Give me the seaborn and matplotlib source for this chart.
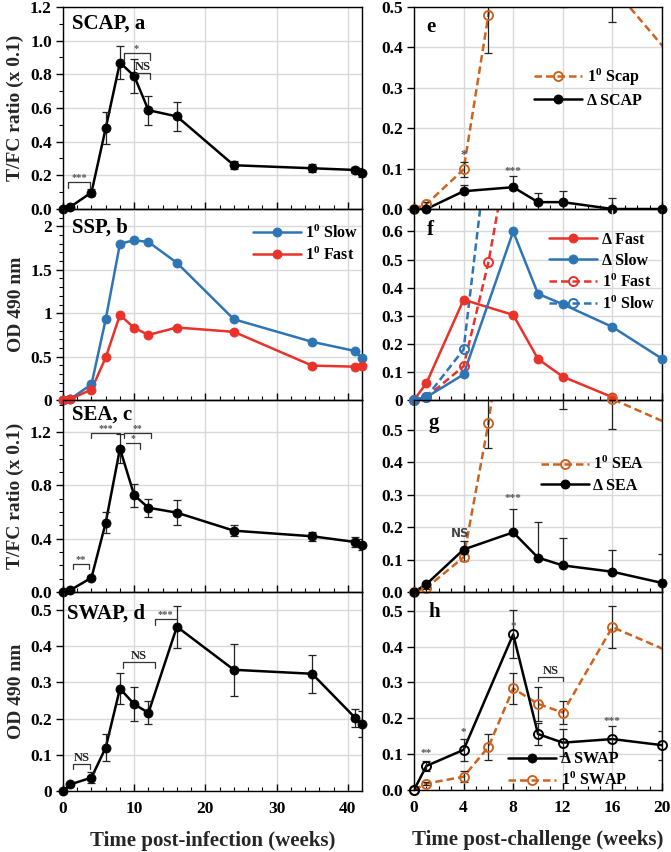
import numpy as np
import matplotlib
matplotlib.use('Agg')
import matplotlib.pyplot as plt
import seaborn as sns
from matplotlib.lines import Line2D
from matplotlib.ticker import MultipleLocator, FuncFormatter

# ---- data ----
weeks_inf = [0, 1, 4, 6, 8, 10, 12, 16, 24, 35, 41, 42]
scap = [0, 0.012, 0.098, 0.48, 0.87, 0.79, 0.587, 0.55, 0.26, 0.242, 0.232, 0.216]
scap_err = [0.005, 0.005, 0.018, 0.095, 0.1, 0.1, 0.087, 0.087, 0.025, 0.025, 0.02, 0.025]
ssp_slow = [0, 0.01, 0.18, 0.93, 1.8, 1.84, 1.82, 1.58, 0.93, 0.67, 0.565, 0.48]
ssp_fast = [0, 0.01, 0.12, 0.49, 0.98, 0.83, 0.75, 0.835, 0.785, 0.396, 0.384, 0.395]
sea = [0, 0.013, 0.107, 0.52, 1.075, 0.726, 0.632, 0.595, 0.46, 0.418, 0.375, 0.355]
sea_err = [0.005, 0.005, 0.01, 0.077, 0.11, 0.087, 0.068, 0.093, 0.04, 0.035, 0.04, 0.04]
swap = [0, 0.018, 0.037, 0.12, 0.283, 0.24, 0.216, 0.454, 0.335, 0.324, 0.203, 0.184]
swap_err = [0.003, 0.004, 0.015, 0.037, 0.042, 0.047, 0.032, 0.058, 0.072, 0.053, 0.025, 0.036]

weeks_ch = [0, 1, 4, 8, 10, 12, 16, 20]
d_scap = [0, 0, 0.044, 0.054, 0.017, 0.017, 0, 0]
d_scap_err = [0, 0, 0.015, 0.027, 0.022, 0.027, 0.026, 0]
weeks_fast = [0, 1, 4, 8, 10, 12, 16]
d_fast = [0, 0.06, 0.357, 0.303, 0.146, 0.083, 0.01]
d_slow = [0, 0.01, 0.091, 0.6, 0.378, 0.341, 0.26, 0.147]
d_sea = [0, 0.024, 0.131, 0.184, 0.106, 0.082, 0.0625, 0.028]
d_sea_err = [0, 0, 0.026, 0.073, 0.109, 0.085, 0.066, 0.09]
d_swap = [0, 0.067, 0.112, 0.434, 0.156, 0.132, 0.142, 0.125]
d_swap_err = [0, 0.015, 0.03, 0.067, 0.03, 0.037, 0.037, 0.04]

BLUE = '#2E75B6'
RED = '#E8322A'
ORANGE = '#CC6420'
BLACK = '#000000'

sns.set_theme(style='ticks')
plt.rcParams.update({
    'font.family': ['Liberation Serif', 'DejaVu Serif'],
    'font.weight': 'bold',
    'axes.labelweight': 'bold',
    'mathtext.fontset': 'custom',
    'mathtext.rm': 'Liberation Serif:bold',
    'mathtext.it': 'Liberation Serif:bold',
    'mathtext.bf': 'Liberation Serif:bold',
    'axes.edgecolor': 'black',
    'axes.linewidth': 1.0,
    'xtick.color': 'black',
    'ytick.color': 'black',
    'text.color': 'black',
})

fig = plt.figure(figsize=(6.71, 8.52), dpi=100)
H = 852.0


def box(left, width, top, bot):
    return [left / 671.0, 1 - bot / H, width / 671.0, (bot - top) / H]


def series(ax, x, y, color, open_=False, dashed=False, err=None, upper=False):
    x = np.asarray(x, float)
    y = np.asarray(y, float)
    ls = (0, (3, 1.6)) if dashed else '-'
    sns.lineplot(x=x, y=y, ax=ax, color=color, linewidth=1.8, linestyle=ls,
                 sort=False, zorder=2)
    if err is not None:
        err = np.asarray(err, float)
        yerr = [np.zeros_like(err), err] if upper else err
        ax.errorbar(x, y, yerr=yerr, fmt='none', ecolor='#222222', elinewidth=0.9,
                    capsize=3, capthick=0.9, zorder=2.5)
    top = ax.get_ylim()[1]
    m = y <= top * 1.02
    ax.plot(x[m], y[m], 'o', ms=6.5, mfc='none' if open_ else color, mec=color,
            mew=1.4 if open_ else 0.6, clip_on=False, zorder=3)


def style(ax, ylim, ymaj, ymin=None, fmt='{:.1f}', left=True, bottom=False):
    ax.set_facecolor('none')
    ax.set_ylim(*ylim)
    if left:
        ax.set_xlim(0, 42)
        ax.xaxis.set_major_locator(MultipleLocator(10))
        ax.xaxis.set_minor_locator(MultipleLocator(2))
    else:
        ax.set_xlim(0, 20)
        ax.xaxis.set_major_locator(MultipleLocator(4))
        ax.xaxis.set_minor_locator(MultipleLocator(1))
    ax.yaxis.set_major_locator(MultipleLocator(ymaj))
    if ymin:
        ax.yaxis.set_minor_locator(MultipleLocator(ymin))
    ax.yaxis.set_major_formatter(FuncFormatter(lambda v, p: fmt.format(v)))
    ax.grid(True, which='major', color='#d9d9d9', lw=1.0)
    ax.set_axisbelow(True)
    for s in ax.spines.values():
        s.set_visible(True)
        s.set_color('black')
        s.set_linewidth(1.0)
    ax.tick_params(axis='x', which='both', direction='in', labelsize=12.5, pad=7)
    ax.tick_params(axis='y', which='both', direction='out', labelsize=12.5, pad=3)
    ax.tick_params(which='major', length=5, width=1)
    ax.tick_params(which='minor', length=3, width=0.8)
    ax.tick_params(axis='x', labelbottom=bottom)
    for t in ax.get_yticklabels() + ax.get_xticklabels():
        t.set_fontweight('bold')


def bracket(ax, x1, x2, y, drop, text, color='#555555', fs=7.5, drops=(True, True), tcolor=None):
    xs, ys = [], []
    if drops[0]:
        xs += [x1]; ys += [y - drop]
    xs += [x1, x2]; ys += [y, y]
    if drops[1]:
        xs += [x2]; ys += [y - drop]
    ax.plot(xs, ys, color='#333333', lw=0.9, zorder=4)
    ax.text((x1 + x2) / 2, y, text, ha='center', va='bottom', fontsize=fs,
            color=tcolor or color, fontweight='bold')


def legend(ax, entries, **kw):
    handles, labels = [], []
    for lab, c, dashed, open_ in entries:
        handles.append(Line2D([], [], color=c, lw=1.8, ls=(0, (3, 1.6)) if dashed else '-',
                              marker='o', ms=6.5, mfc='none' if open_ else c, mec=c,
                              mew=1.4 if open_ else 0.6))
        labels.append(lab)
    ax.legend(handles, labels, frameon=False, fontsize=11.5, handlelength=3.0,
              handletextpad=0.3, labelspacing=0.3, borderaxespad=0.2, **kw)


P = r'1$^{0}$'

# ---------------- left column ----------------
axa = fig.add_axes(box(63, 299, 7, 209))
style(axa, (0, 1.2), 0.2, 0.1)
series(axa, weeks_inf, scap, BLACK, err=scap_err)
axa.set_ylabel('T/FC ratio (x 0.1)', fontsize=14)
axa.text(0.03, 0.965, 'SCAP, a', transform=axa.transAxes, fontsize=15, va='top')
bracket(axa, 0.75, 3.8, 0.163, 0.04, '***')
bracket(axa, 8.5, 12.2, 0.925, 0.04, '*')
bracket(axa, 10.1, 12.2, 0.805, 0.03, 'NS', drops=(False, True), fs=9, tcolor='#222222')

axb = fig.add_axes(box(63, 299, 209, 400))
style(axb, (0, 2.2), 0.5, 0.1, fmt='{:g}')
series(axb, weeks_inf, ssp_slow, BLUE)
series(axb, weeks_inf, ssp_fast, RED)
axb.set_ylabel('OD 490 nm', fontsize=14)
axb.text(0.03, 0.955, 'SSP, b', transform=axb.transAxes, fontsize=15, va='top')
legend(axb, [(P + ' Slow', BLUE, False, False), (P + ' Fast', RED, False, False)],
       loc='upper right', bbox_to_anchor=(1.02, 0.97))

axc = fig.add_axes(box(63, 299, 400, 592))
style(axc, (0, 1.44), 0.4, 0.1)
series(axc, weeks_inf, sea, BLACK, err=sea_err)
axc.set_ylabel('T/FC ratio (x 0.1)', fontsize=14)
axc.text(0.03, 0.975, 'SEA, c', transform=axc.transAxes, fontsize=15, va='top')
bracket(axc, 1.4, 3.7, 0.211, 0.04, '**')
bracket(axc, 4.0, 8.0, 1.192, 0.04, '***', drops=(True, False), fs=7)
bracket(axc, 8.6, 12.4, 1.192, 0.04, '**', fs=7)
bracket(axc, 8.9, 10.8, 1.116, 0.04, '*', drops=(False, True), fs=7)

axd = fig.add_axes(box(63, 299, 592, 791))
style(axd, (0, 0.55), 0.1, None, fmt='{:g}', bottom=True)
series(axd, weeks_inf, swap, BLACK, err=swap_err)
axd.set_ylabel('OD 490 nm', fontsize=14)
axd.set_xlabel('Time post-infection (weeks)', fontsize=15, labelpad=10)
axd.text(0.013, 0.94, 'SWAP, d', transform=axd.transAxes, fontsize=15, va='top')
bracket(axd, 1.45, 3.8, 0.074, 0.014, 'NS', fs=9, tcolor='#222222')
bracket(axd, 8.4, 12.9, 0.357, 0.018, 'NS', fs=9, tcolor='#222222')
bracket(axd, 12.9, 16.0, 0.474, 0.014, '***', drops=(True, False))

# ---------------- right column ----------------
axe = fig.add_axes(box(414, 248, 7, 209))
style(axe, (0, 0.5), 0.1, left=False)
series(axe, weeks_inf, scap, ORANGE, open_=True, dashed=True, err=scap_err)
series(axe, weeks_ch, d_scap, BLACK, err=d_scap_err, upper=True)
axe.text(0.05, 0.95, 'e', transform=axe.transAxes, fontsize=15, va='top')
axe.text(4, 0.134, '*', ha='center', va='center', fontsize=9, color='#555555')
axe.text(8, 0.093, '***', ha='center', va='center', fontsize=8, color='#555555')
legend(axe, [(P + ' Scap', ORANGE, True, True), ('Δ SCAP', BLACK, False, False)],
       loc='center', bbox_to_anchor=(0.7, 0.6))

axf = fig.add_axes(box(414, 248, 209, 400))
style(axf, (0, 0.68), 0.1, fmt='{:g}', left=False)
series(axf, weeks_inf, ssp_fast, RED, open_=True, dashed=True)
series(axf, weeks_inf, ssp_slow, BLUE, open_=True, dashed=True)
series(axf, weeks_fast, d_fast, RED)
series(axf, weeks_ch, d_slow, BLUE)
axf.text(0.05, 0.94, 'f', transform=axf.transAxes, fontsize=15, va='top')
legend(axf, [('Δ Fast', RED, False, False), ('Δ Slow', BLUE, False, False),
             (P + ' Fast', RED, True, True), (P + ' Slow', BLUE, True, True)],
       loc='upper right', bbox_to_anchor=(1.01, 0.93))

axg = fig.add_axes(box(414, 248, 400, 592))
style(axg, (0, 0.592), 0.1, left=False)
series(axg, weeks_inf, sea, ORANGE, open_=True, dashed=True, err=sea_err)
series(axg, weeks_ch, d_sea, BLACK, err=d_sea_err, upper=True)
axg.text(0.06, 0.93, 'g', transform=axg.transAxes, fontsize=15, va='top')
axg.text(3.7, 0.18, 'NS', ha='center', va='center', fontsize=8.5, color='#444444',
         family='DejaVu Sans')
axg.text(8, 0.288, '***', ha='center', va='center', fontsize=8, color='#555555')
legend(axg, [(P + ' SEA', ORANGE, True, True), ('Δ SEA', BLACK, False, False)],
       loc='center', bbox_to_anchor=(0.72, 0.61))

axh = fig.add_axes(box(414, 248, 592, 790))
style(axh, (0, 0.552), 0.1, left=False, bottom=True)
series(axh, weeks_inf, swap, ORANGE, open_=True, dashed=True, err=swap_err)
series(axh, weeks_ch, d_swap, BLACK, open_=True, err=d_swap_err)
axh.text(0.06, 0.95, 'h', transform=axh.transAxes, fontsize=15, va='top')
axh.set_xlabel('Time post-challenge (weeks)', fontsize=15, labelpad=10)
for xx, yy, s in [(1, 0.102, '**'), (4, 0.16, '*'), (8, 0.455, '*'), (16, 0.19, '***')]:
    axh.text(xx, yy, s, ha='center', va='center', fontsize=8, color='#555555')
bracket(axh, 10.0, 12.0, 0.316, 0.012, 'NS', fs=9, tcolor='#222222')
legend(axh, [('Δ SWAP', BLACK, False, False), (P + ' SWAP', ORANGE, True, True)],
       loc='center', bbox_to_anchor=(0.62, 0.1))

fig.savefig('out.png', dpi=100, facecolor='white')
